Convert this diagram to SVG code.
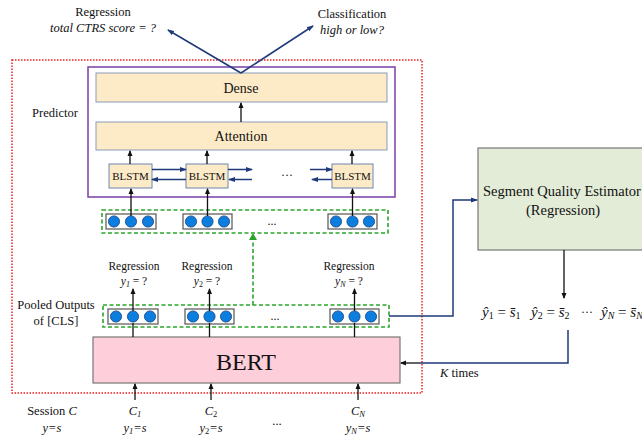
<svg xmlns="http://www.w3.org/2000/svg" width="642" height="437" viewBox="0 0 642 437">
<defs>
<style>
text{font-family:"Liberation Serif","Times New Roman",serif;fill:#111;}
.t11{font-size:11.5px;}
.t12{font-size:12.5px;}
.it{font-style:italic;}
.box{fill:#fdebc8;stroke:#8a9bb8;stroke-width:1;}
.bl{fill:#fdebc8;stroke:#6e86ad;stroke-width:1;}
.cg{fill:#fff;stroke:#555;stroke-width:1.2;}
.c{fill:#0c7ee0;stroke:#1c3f78;stroke-width:0.8;}
.blk{stroke:#111;stroke-width:1.3;fill:none;}
.nav{stroke:#1f3a7a;stroke-width:1.5;fill:none;}
.gd{fill:none;stroke:#2aa52a;stroke-width:1.6;stroke-dasharray:4,2.5;}
.fm{font-size:15px;}
.sb{font-size:10px;}
</style>
<marker id="ab" markerWidth="6" markerHeight="6" refX="5" refY="3" orient="auto" markerUnits="userSpaceOnUse"><path d="M0,0.5 L6,3 L0,5.5 Z" fill="#111"/></marker>
<marker id="an" markerWidth="7" markerHeight="6" refX="6" refY="3" orient="auto" markerUnits="userSpaceOnUse"><path d="M0,0.5 L7,3 L0,5.5 Z" fill="#1f3a7a"/></marker>
</defs>
<rect width="642" height="437" fill="#fff"/>

<!-- outer red dotted box -->
<rect id="outer" x="12" y="60" width="410" height="333" fill="none" stroke="#ee2020" stroke-width="1.5" stroke-dasharray="1.5,1.5"/>

<!-- labels -->
<g id="labels">
<text class="t12" x="103" y="16" text-anchor="middle">Regression</text>
<text class="t12 it" x="103" y="32" text-anchor="middle">total CTRS score = ?</text>
<text class="t12" x="352" y="18" text-anchor="middle">Classification</text>
<text class="t12 it" x="352" y="34" text-anchor="middle">high or low?</text>
<text class="t12" x="55" y="117" text-anchor="middle">Predictor</text>
<text class="t12" x="56" y="309" text-anchor="middle">Pooled Outputs</text>
<text class="t12" x="56" y="325" text-anchor="middle">of [CLS]</text>
<text class="t12" x="52" y="415" text-anchor="middle">Session <tspan class="it">C</tspan></text>
<text class="t12 it" x="52" y="432" text-anchor="middle">y=s</text>
<text class="t12" x="277" y="425" text-anchor="middle">...</text>
<text class="t12 it" x="440" y="377">K<tspan font-style="normal"> times</tspan></text>
</g>

<!-- predictor -->
<g id="predictor">
<rect x="88" y="67" width="307" height="130" fill="#fff" stroke="#7a3fa8" stroke-width="1.5"/>
</g>
<g id="dense"><rect class="box" x="96" y="73" width="291" height="29"/><text x="241" y="93" text-anchor="middle" font-size="14">Dense</text></g>
<g id="attention"><rect class="box" x="96" y="122" width="291" height="28"/><text x="241" y="141" text-anchor="middle" font-size="14">Attention</text></g>
<g id="blstm1"><rect class="bl" x="109" y="164" width="43" height="24"/><text x="130.5" y="180" text-anchor="middle" font-size="11">BLSTM</text></g>
<g id="blstm2"><rect class="bl" x="186" y="164" width="42" height="24"/><text x="207" y="180" text-anchor="middle" font-size="11">BLSTM</text></g>
<g id="blstm3"><rect class="bl" x="332" y="164" width="41" height="24"/><text x="352.5" y="180" text-anchor="middle" font-size="11">BLSTM</text></g>
<text x="287" y="179" text-anchor="middle" font-size="12">···</text>

<!-- pooled groups -->
<g id="pooled-top">
<rect class="gd" x="102" y="210" width="286" height="23"/>
<rect class="cg" x="106" y="214" width="50" height="15"/>
<circle class="c" cx="114" cy="221.5" r="5.6"/><circle class="c" cx="131" cy="221.5" r="5.6"/><circle class="c" cx="148" cy="221.5" r="5.6"/>
<rect class="cg" x="183" y="214" width="49" height="15"/>
<circle class="c" cx="191" cy="221.5" r="5.6"/><circle class="c" cx="207.5" cy="221.5" r="5.6"/><circle class="c" cx="224" cy="221.5" r="5.6"/>
<rect class="cg" x="328" y="214" width="49" height="15"/>
<circle class="c" cx="336" cy="221.5" r="5.6"/><circle class="c" cx="352.5" cy="221.5" r="5.6"/><circle class="c" cx="369" cy="221.5" r="5.6"/>
<text x="272" y="225" text-anchor="middle" font-size="12">...</text>
</g>

<g id="pooled-bottom">
<rect class="gd" x="103" y="305" width="286" height="22"/>
<rect class="cg" x="108" y="309" width="50" height="15"/>
<circle class="c" cx="116" cy="316.5" r="5.6"/><circle class="c" cx="133" cy="316.5" r="5.6"/><circle class="c" cx="150" cy="316.5" r="5.6"/>
<rect class="cg" x="185" y="309" width="49" height="15"/>
<circle class="c" cx="193" cy="316.5" r="5.6"/><circle class="c" cx="209.5" cy="316.5" r="5.6"/><circle class="c" cx="226" cy="316.5" r="5.6"/>
<rect class="cg" x="330" y="309" width="49" height="15"/>
<circle class="c" cx="338" cy="316.5" r="5.6"/><circle class="c" cx="354.5" cy="316.5" r="5.6"/><circle class="c" cx="371" cy="316.5" r="5.6"/>
<text x="275" y="320" text-anchor="middle" font-size="12">...</text>
</g>

<g id="reg-labels">
<text class="t11" x="134" y="270" text-anchor="middle">Regression</text>
<text class="t11" x="134" y="285" text-anchor="middle"><tspan class="it">y</tspan><tspan class="it" font-size="8" dy="2">1</tspan><tspan dy="-2"> = ?</tspan></text>
<text class="t11" x="207" y="270" text-anchor="middle">Regression</text>
<text class="t11" x="207" y="285" text-anchor="middle"><tspan class="it">y</tspan><tspan font-size="8" dy="2">2</tspan><tspan dy="-2"> = ?</tspan></text>
<text class="t11" x="349" y="270" text-anchor="middle">Regression</text>
<text class="t11" x="349" y="285" text-anchor="middle"><tspan class="it">y</tspan><tspan class="it" font-size="8" dy="2">N</tspan><tspan dy="-2"> = ?</tspan></text>
</g>

<!-- BERT -->
<g id="bert"><rect x="93" y="337" width="307" height="46" fill="#fecfdb" stroke="#777" stroke-width="1.2"/><text x="246" y="370" text-anchor="middle" font-size="24">BERT</text></g>

<g id="inputs">
<text class="t12 it" x="135" y="415" text-anchor="middle">C<tspan font-size="8.5" dy="2">1</tspan></text>
<text class="t12 it" x="135" y="432" text-anchor="middle">y<tspan font-size="8.5" dy="2">1</tspan><tspan dy="-2">=s</tspan></text>
<text class="t12 it" x="211" y="415" text-anchor="middle">C<tspan font-size="8.5" font-style="normal" dy="2">2</tspan></text>
<text class="t12 it" x="211" y="432" text-anchor="middle">y<tspan font-size="8.5" font-style="normal" dy="2">2</tspan><tspan dy="-2">=s</tspan></text>
<text class="t12 it" x="358" y="415" text-anchor="middle">C<tspan font-size="8.5" dy="2">N</tspan></text>
<text class="t12 it" x="358" y="432" text-anchor="middle">y<tspan font-size="8.5" dy="2">N</tspan><tspan dy="-2">=s</tspan></text>
</g>

<!-- SQE -->
<g id="sqe"><rect x="478" y="148" width="175" height="102" fill="#e3ecd7" stroke="#777" stroke-width="1.2"/>
<text x="483" y="196" font-size="14.5">Segment Quality Estimator</text>
<text x="563" y="215" text-anchor="middle" font-size="14.5">(Regression)</text></g>

<g id="formula">
<text class="fm" x="482" y="317"><tspan class="it">ŷ</tspan><tspan class="sb" dy="2">1</tspan><tspan dy="-2"> = </tspan><tspan class="it">s̄</tspan><tspan class="sb" dy="2">1</tspan></text>
<text class="fm" x="531" y="317"><tspan class="it">ŷ</tspan><tspan class="sb" dy="2">2</tspan><tspan dy="-2"> = </tspan><tspan class="it">s̄</tspan><tspan class="sb" dy="2">2</tspan></text>
<text x="581" y="316" font-size="12">···</text>
<text class="fm" x="601" y="317"><tspan class="it">ŷ</tspan><tspan class="sb it" dy="2">N</tspan><tspan dy="-2"> = </tspan><tspan class="it">s̄</tspan><tspan class="sb it" dy="2">N</tspan></text>
</g>

<!-- connectors -->
<g id="connectors">
<line class="nav" x1="241" y1="73" x2="168" y2="30" marker-end="url(#an)"/>
<line class="nav" x1="241" y1="73" x2="313" y2="26" marker-end="url(#an)"/>
<line class="blk" x1="241" y1="122" x2="241" y2="103" marker-end="url(#ab)"/>
<line class="blk" x1="130" y1="164" x2="130" y2="151" marker-end="url(#ab)"/>
<line class="blk" x1="207" y1="164" x2="207" y2="151" marker-end="url(#ab)"/>
<line class="blk" x1="352" y1="164" x2="352" y2="151" marker-end="url(#ab)"/>
<line class="nav" x1="152" y1="169.5" x2="186" y2="169.5" marker-end="url(#an)"/>
<line class="nav" x1="186" y1="179.5" x2="152" y2="179.5" marker-end="url(#an)"/>
<line class="nav" x1="228" y1="169.5" x2="252" y2="169.5" marker-end="url(#an)"/>
<line class="nav" x1="252" y1="179.5" x2="229" y2="179.5" marker-end="url(#an)"/>
<line class="nav" x1="310" y1="169.5" x2="332" y2="169.5" marker-end="url(#an)"/>
<line class="nav" x1="332" y1="179.5" x2="312" y2="179.5" marker-end="url(#an)"/>
<line class="blk" x1="131" y1="216" x2="131" y2="189" marker-end="url(#ab)"/>
<line class="blk" x1="207.5" y1="216" x2="207.5" y2="189" marker-end="url(#ab)"/>
<line class="blk" x1="352.5" y1="216" x2="352.5" y2="189" marker-end="url(#ab)"/>
<line class="gd" x1="253" y1="305" x2="253" y2="238"/>
<path d="M249,240 L253,233 L257,240 Z" fill="#2aa52a"/>
<line class="blk" x1="133" y1="311" x2="133" y2="289" marker-end="url(#ab)"/>
<line class="blk" x1="209.5" y1="311" x2="209.5" y2="289" marker-end="url(#ab)"/>
<line class="blk" x1="354.5" y1="311" x2="354.5" y2="289" marker-end="url(#ab)"/>
<line class="blk" x1="133" y1="337" x2="133" y2="323"/>
<line class="blk" x1="209.5" y1="337" x2="209.5" y2="323"/>
<line class="blk" x1="354.5" y1="337" x2="354.5" y2="323"/>
<line class="blk" x1="135" y1="400" x2="135" y2="384" marker-end="url(#ab)"/>
<line class="blk" x1="211" y1="400" x2="211" y2="384" marker-end="url(#ab)"/>
<line class="blk" x1="358" y1="400" x2="358" y2="384" marker-end="url(#ab)"/>
<polyline class="nav" points="389,316 453,316 453,200 477,200" marker-end="url(#an)"/>
<line class="blk" x1="564" y1="250" x2="564" y2="298" marker-end="url(#ab)"/>
<polyline class="nav" points="568,330 568,363 420,363"/>
<line x1="420" y1="363" x2="401" y2="363" stroke="#111" stroke-width="1.3" marker-end="url(#ab)"/>
</g>
</svg>
